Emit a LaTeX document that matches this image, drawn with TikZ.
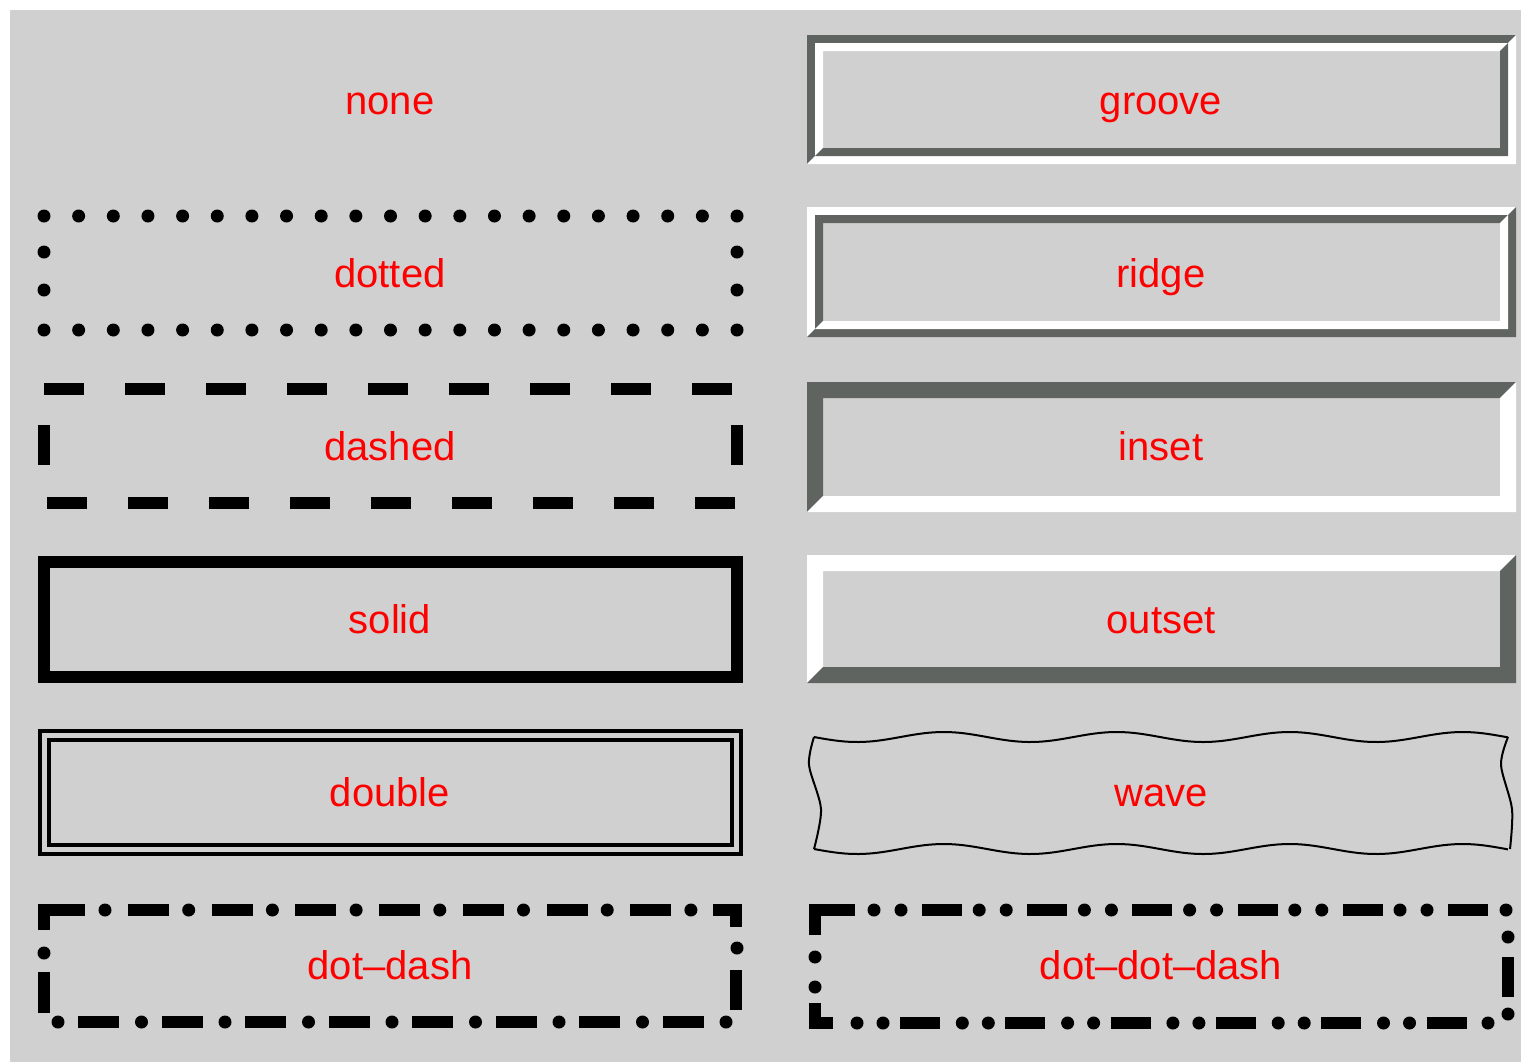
\documentclass[tikz,border=0pt]{standalone}
\usepackage{fontspec}
\setmainfont{Liberation Sans}
\usepackage{tikz}
\usetikzlibrary{positioning}
\definecolor{panel}{RGB}{208,208,208}
\definecolor{bevdark}{RGB}{96,100,96}
\tikzset{
  lbl/.style={anchor=base, text=red, inner sep=0pt, font=\fontsize{20}{24}\selectfont},
  brd/.style={line width=6pt, line cap=butt, line join=miter},
  dt/.style={radius=3.25pt}
}
% beveled frame: x1, y1, x2, y2, width, top-left colour, bottom-right colour
\newcommand{\bevelbox}[7]{%
  \fill[#6] (#1,#4) -- (#1,#2) -- (#3,#2) -- ({#3-#5},{#2+#5}) -- ({#1+#5},{#2+#5}) -- ({#1+#5},{#4-#5}) -- cycle;
  \fill[#7] (#3,#2) -- (#3,#4) -- (#1,#4) -- ({#1+#5},{#4-#5}) -- ({#3-#5},{#4-#5}) -- ({#3-#5},{#2+#5}) -- cycle;}

\begin{document}
\begin{tikzpicture}[x=0.5pt, y=-0.5pt]
    \useasboundingbox (0,0) rectangle (1521,1062);
    \fill[panel] (10,10) rectangle (1521,1062);

    % none
    \node[lbl] (none) at (390,114) {none};

    % groove and ridge
    \bevelbox{807}{35}{1516}{164}{8}{bevdark}{white}
    \bevelbox{815}{43}{1508}{156}{8}{white}{bevdark}
    \node[lbl] (groove) at (1161,114) {groove};

    \bevelbox{807}{207}{1516}{337}{8}{white}{bevdark}
    \bevelbox{815}{215}{1508}{329}{8}{bevdark}{white}
    \node[lbl] (ridge) at (1161,287) {ridge};

    % dotted
    \foreach \k in {0,...,20} {
        \fill ({44+34.65*\k},216) circle[dt];
        \fill ({44+34.65*\k},330) circle[dt];
    }
    \foreach \y in {252,290} {
        \fill (44,\y) circle[dt];
        \fill (737,\y) circle[dt];
    }
    \node[lbl] (dotted) at (390,287) {dotted};

    % dashed
    \foreach \k in {0,...,8} {
        \draw[brd] ({44+81*\k},389) -- ({84+81*\k},389);
        \draw[brd] ({47+81*\k},503) -- ({87+81*\k},503);
    }
    \draw[brd] (44,425) -- (44,465);
    \draw[brd] (737,425) -- (737,465);
    \node[lbl] (dashed) at (390,460) {dashed};

    % inset and outset
    \bevelbox{807}{382}{1516}{512}{16}{bevdark}{white}
    \node[lbl] (inset) at (1161,460) {inset};

    \bevelbox{807}{555}{1516}{683}{16}{white}{bevdark}
    \node[lbl] (outset) at (1161,633) {outset};

    % solid
    \draw[brd] (44,562) rectangle (737,677);
    \node[lbl] (solid) at (390,633) {solid};

    % double
    \draw[line width=2pt] (40,731) rectangle (741,854);
    \draw[line width=2pt] (49,740) rectangle (732,845);
    \node[lbl] (double) at (390,806) {double};

    % wave
    \draw[line width=1pt, line join=round]
        plot[domain=814:1508, samples=140] (\x,{737+5*sin(2.0809*(\x-814))});
    \draw[line width=1pt, line join=round]
        plot[domain=814:1508, samples=140] (\x,{849+5*sin(2.0809*(\x-814))});
    \draw[line width=1pt] plot[smooth] coordinates {(814,737) (809,765) (821,809) (814,849)};
    \draw[line width=1pt] plot[smooth] coordinates {(1508,737) (1501,765) (1512,809) (1510,849)};
    \node[lbl] (wave) at (1161,806) {wave};

    % dot-dash
    \draw[brd] (44,930) -- (44,910) -- (85,910);
    \foreach \k in {0,...,7} \fill ({105+83.7*\k},910) circle[dt];
    \foreach \k in {0,...,6} \draw[brd] ({128+83.7*\k},910) -- ({169+83.7*\k},910);
    \draw[brd] (713,910) -- (736,910) -- (736,927);
    \fill (44,953) circle[dt];
    \draw[brd] (44,972) -- (44,1013);
    \fill (737,948) circle[dt];
    \draw[brd] (736,970) -- (736,1010);
    \foreach \k in {0,...,8} \fill ({58+83.5*\k},1022) circle[dt];
    \foreach \k in {0,...,7} \draw[brd] ({78+83.5*\k},1022) -- ({119+83.5*\k},1022);
    \node[lbl] (dotdash) at (390,979) {dot\textendash dash};

    % dot-dot-dash
    \draw[brd] (815,935) -- (815,910) -- (855,910);
    \foreach \k in {0,...,5} {
        \fill ({874+105.2*\k},910) circle[dt];
        \fill ({901+105.2*\k},910) circle[dt];
        \draw[brd] ({922+105.2*\k},910) -- ({962+105.2*\k},910);
    }
    \fill (1506,910) circle[dt];
    \fill (1508,937) circle[dt];
    \draw[brd] (1508,957) -- (1508,997);
    \fill (1508,1014) circle[dt];
    \fill (815,957) circle[dt];
    \fill (815,987) circle[dt];
    \draw[brd] (815,1003) -- (815,1023) -- (833,1023);
    \foreach \k in {0,...,5} {
        \fill ({857+105.3*\k},1023) circle[dt];
        \fill ({883+105.3*\k},1023) circle[dt];
        \draw[brd] ({900+105.3*\k},1023) -- ({940+105.3*\k},1023);
    }
    \fill (1488,1023) circle[dt];
    \node[lbl] (dotdotdash) at (1161,979) {dot\textendash dot\textendash dash};
\end{tikzpicture}
\end{document}
